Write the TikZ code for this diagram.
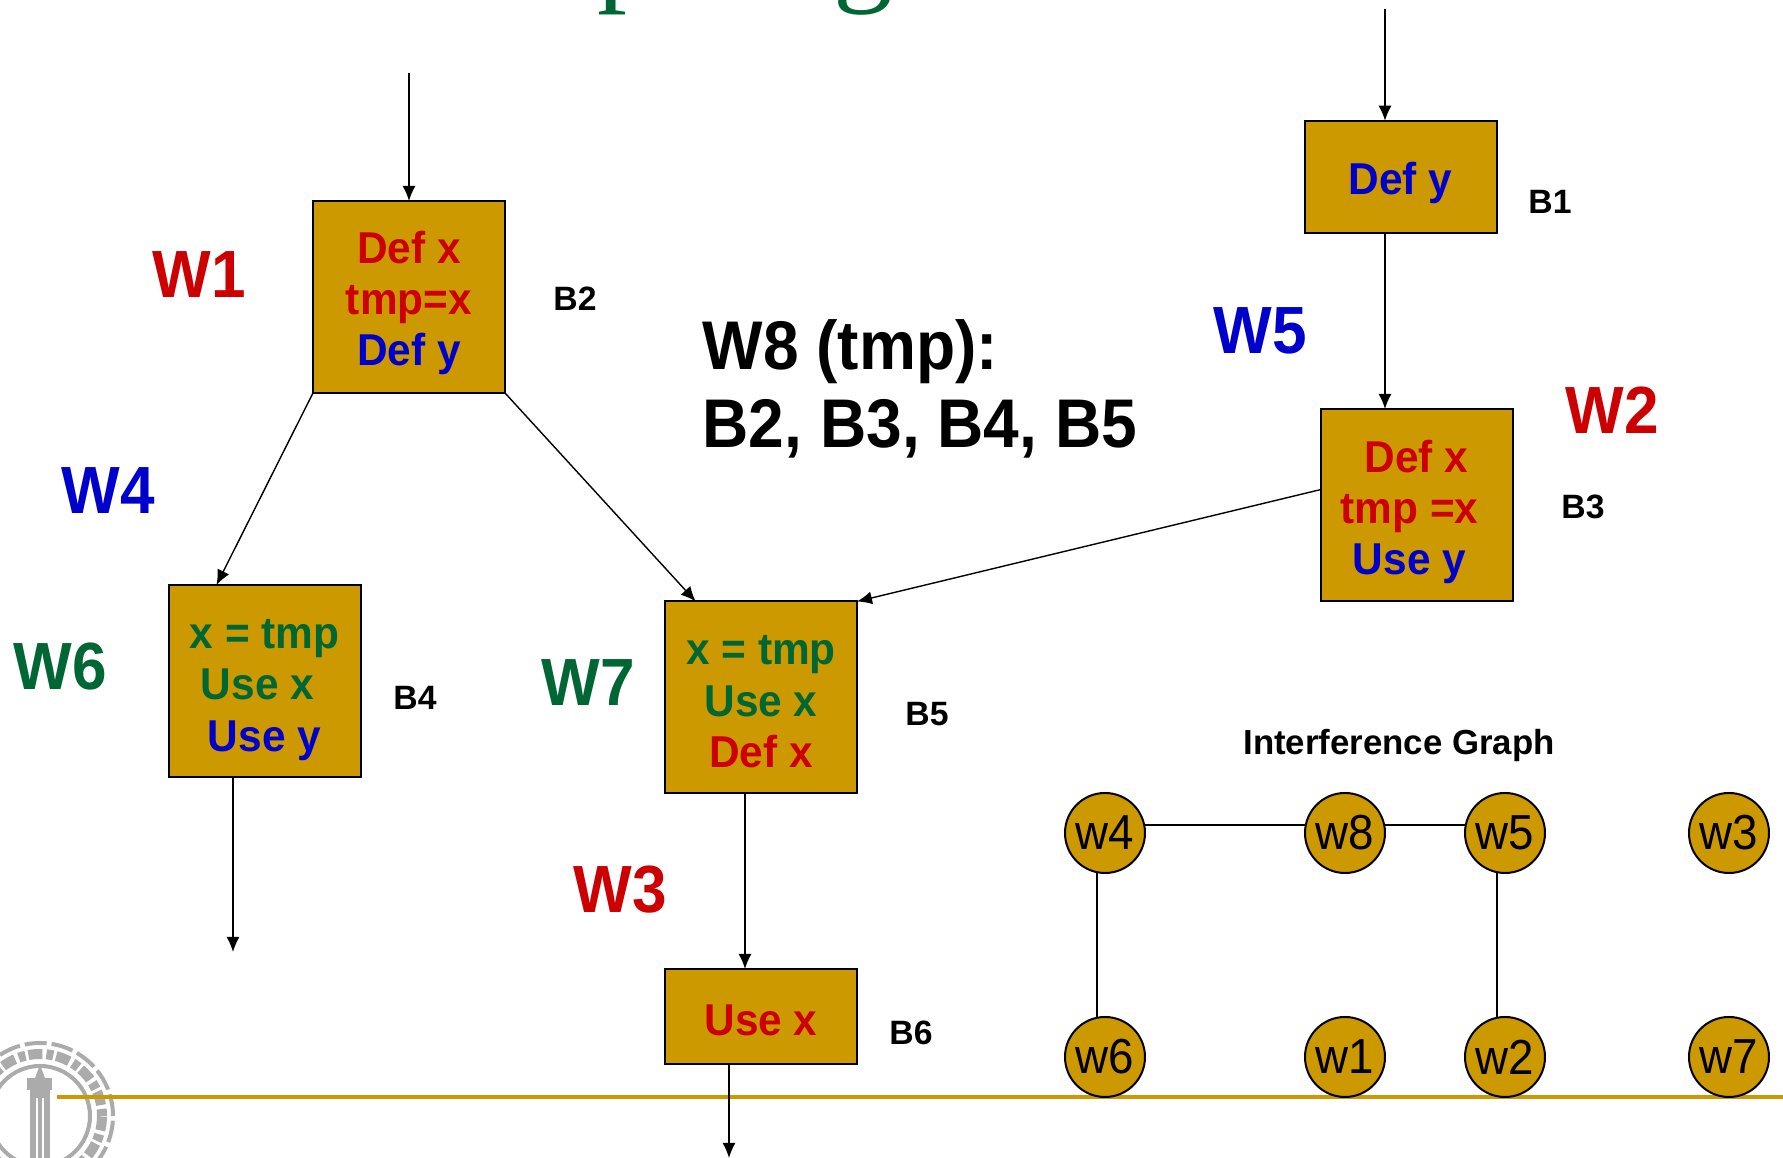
\documentclass[tikz,border=0pt]{standalone}
\usepackage{fontspec}
\setmainfont{Liberation Sans}
\newfontfamily\titlefont{Liberation Serif}
\newfontfamily\webfont[FakeStretch=.93]{Liberation Sans}
\newfontfamily\boxfont[FakeStretch=.95]{Liberation Sans}
\usetikzlibrary{arrows.meta,calc}
\definecolor{gold}{HTML}{CC9900}
\definecolor{wred}{HTML}{CC0000}
\definecolor{wblue}{HTML}{0000CC}
\definecolor{wgreen}{HTML}{006633}
\definecolor{seal}{HTML}{ABABAB}
\newcommand{\rd}[1]{\textcolor{wred}{#1}}
\newcommand{\bl}[1]{\textcolor{wblue}{#1}}
\newcommand{\gr}[1]{\textcolor{wgreen}{#1}}
\newcommand{\topgap}[1]{\rule{0pt}{#1cm}}
\tikzset{
  blockbox/.style={draw=black,fill=gold,line width=.02cm,inner sep=0pt,outer sep=0pt,
    minimum width=1.92cm,minimum height=1.92cm,align=center,
    font=\fontsize{12.7}{14.6}\selectfont\boxfont\bfseries},
  webname/.style={font=\fontsize{19}{22}\selectfont\webfont\bfseries},
  blockname/.style={font=\fontsize{9.6}{11}\selectfont\bfseries},
  webnode/.style={circle,draw=black,fill=gold,line width=.02cm,inner sep=0pt,outer sep=0pt,
    minimum size=.8cm,font=\fontsize{14}{16}\selectfont\webfont},
  flow/.style={-{Latex[length=.15cm,width=.13cm]},line width=.014cm},
  edgeline/.style={line width=.02cm}
}

\begin{document}
\begin{tikzpicture}
\useasboundingbox (0,0) rectangle (17.83,11.58);

% ---------- cut-off heading ----------
\begin{scope}
  \clip (0,0) rectangle (17.83,11.58);
  \node[anchor=base west,wgreen,inner sep=0pt,font=\fontsize{34}{40}\selectfont\titlefont] (headp) at (5.97,11.68) {p};
  \node[anchor=base west,wgreen,inner sep=0pt,font=\fontsize{34}{40}\selectfont\titlefont] (headg) at (8.33,11.68) {g};
\end{scope}

% ---------- seal ----------
\begin{scope}
  \clip (0,0) rectangle (17.83,11.58);
  \draw[seal,line width=.04cm] (.40,.42) circle (.50);
  \draw[seal,line width=.10cm,dash pattern=on .07cm off .04cm on .14cm off .03cm] (.40,.42) circle (.62);
  \draw[seal,line width=.04cm,dash pattern=on .22cm off .05cm] (.40,.42) circle (.73);
  \fill[seal] (.30,0) rectangle (.50,.68);
  \fill[seal] (.27,.68) rectangle (.52,.80);
  \fill[seal] (.35,.80) -- (.40,.93) -- (.45,.80) -- cycle;
  \draw[white,line width=.012cm] (.37,0) -- (.37,.60) (.43,0) -- (.43,.60);
\end{scope}
\draw[gold,line width=.04cm] (.57,.61) -- (17.83,.61);

% ---------- blocks ----------
\node[blockbox,minimum height=1.125cm] (b1) at (14.005,9.81) {\topgap{.44}\bl{Def y}};
\node[blockbox] (b2) at (4.09,8.61) {\topgap{.44}\rd{Def x}\\\rd{tmp=x}\\\bl{Def y}};
\node[blockbox] (b3) at (14.165,6.53) {\topgap{.46}\rd{Def x}\\\rd{tmp =x}\kern.14cm\\\bl{Use y}\kern.14cm};
\node[blockbox] (b4) at (2.645,4.77) {\topgap{.47}\gr{x = tmp}\\\gr{Use x}\kern.14cm\\\bl{Use y}};
\node[blockbox] (b5) at (7.61,4.605) {\topgap{.38}\gr{x = tmp}\\\gr{Use x}\\\rd{Def x}};
\node[blockbox,minimum height=.95cm] (b6) at (7.61,1.415) {\topgap{.38}\rd{Use x}};

\node[blockname] (nb1) at (15.50,9.56) {B1};
\node[blockname] (nb2) at (5.75,8.59) {B2};
\node[blockname] (nb3) at (15.83,6.51) {B3};
\node[blockname] (nb4) at (4.15,4.60) {B4};
\node[blockname] (nb5) at (9.27,4.44) {B5};
\node[blockname] (nb6) at (9.11,1.25) {B6};

% ---------- webs ----------
\node[webname,wred] (w1) at (1.99,8.83) {W1};
\node[webname,wred] (w2) at (16.12,7.48) {W2};
\node[webname,wred] (w3) at (6.20,2.68) {W3};
\node[webname,wblue] (w4) at (1.08,6.67) {W4};
\node[webname,wblue] (w5) at (12.60,8.27) {W5};
\node[webname,wgreen] (w6) at (.60,4.91) {W6};
\node[webname,wgreen] (w7) at (5.88,4.75) {W7};
\node[anchor=west,align=left,inner sep=0pt,font=\fontsize{19.6}{22}\selectfont\webfont\bfseries] (w8) at (7.02,7.69) {W8 (tmp):\\B2, B3, B4, B5};

% ---------- control flow ----------
\coordinate (in2) at (4.09,10.85);
\coordinate (in1) at (13.85,11.49);
\coordinate (out4) at (2.33,2.06);
\coordinate (mid5) at (7.45,3);
\coordinate (out6) at (7.29,0);
\draw[flow] (in2) -- (in2 |- b2.north);
\draw[flow] (in1) -- (in1 |- b1.north);
\draw[flow] (in1 |- b1.south) -- (in1 |- b3.north);
\draw[flow] (b2.south west) -- ($(b4.north west)!.25!(b4.north east)$);
\draw[flow] (b2.south east) -- ($(b5.north west)!.16!(b5.north east)$);
\draw[flow] ($(b3.north west)!.42!(b3.south west)$) -- (b5.north east);
\draw[flow] (out4 |- b4.south) -- (out4);
\draw[flow] (mid5 |- b5.south) -- (mid5 |- b6.north);
\draw[flow] (out6 |- b6.south) -- (out6);

% ---------- interference graph ----------
\node[font=\fontsize{9.9}{12}\selectfont\bfseries] (igraph) at (13.99,4.125) {Interference Graph};
\foreach \n/\x/\y in {w4/11.05/3.25,w8/13.45/3.25,w5/15.05/3.25,w3/17.29/3.25,
                      w6/11.05/1.01,w1/13.45/1.01,w2/15.05/1.01,w7/17.29/1.01}
  \node[webnode] (g\n) at (\x,\y) {\n};
\draw[edgeline] (gw4.11) -- (gw8.169);
\draw[edgeline] (gw8.11) -- (gw5.169);
\draw[edgeline] (gw4.258) -- (gw6.102);
\draw[edgeline] (gw5.258) -- (gw2.102);
\end{tikzpicture}
\end{document}
